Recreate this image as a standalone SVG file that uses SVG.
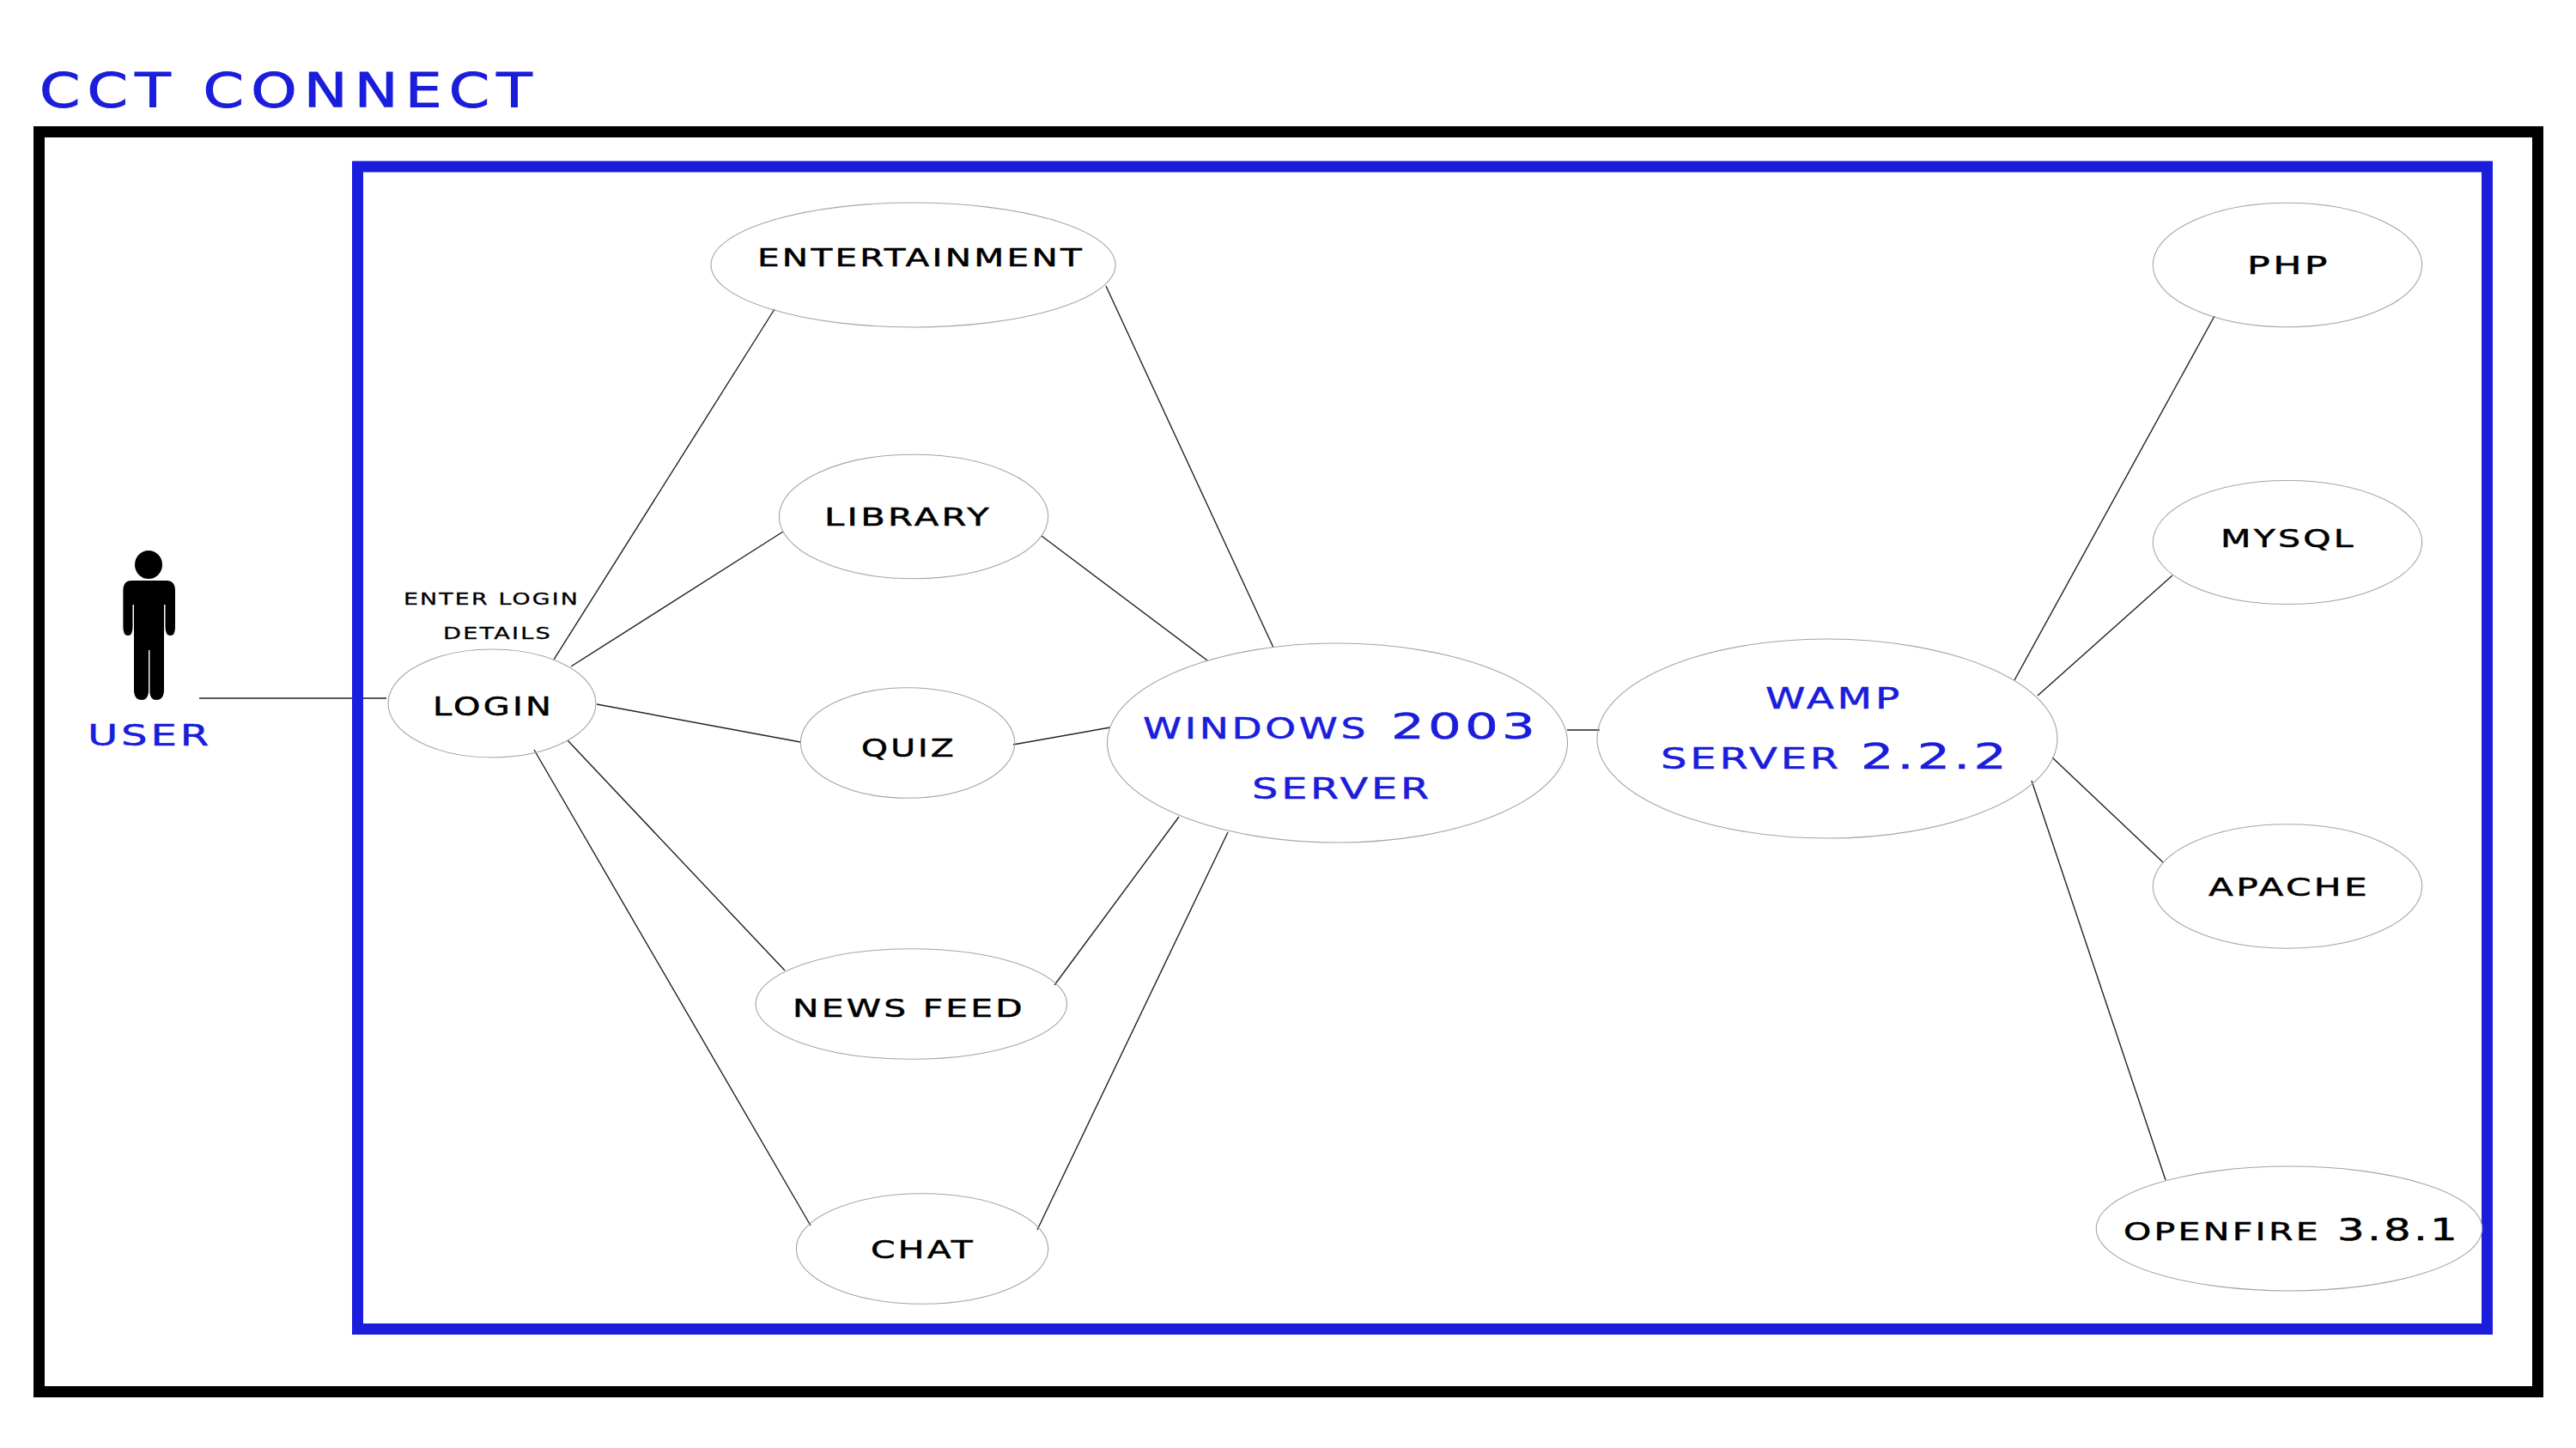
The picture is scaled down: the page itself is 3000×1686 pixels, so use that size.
<svg xmlns="http://www.w3.org/2000/svg" width="3000" height="1686" viewBox="0 0 3000 1686">
<style>
text{font-family:"DejaVu Sans","Liberation Sans",sans-serif;fill:#000;stroke:#000;stroke-width:.5;font-size:29px;letter-spacing:.08em}
.b{fill:#1a1ddb;stroke:#1a1ddb}
.n{fill:none;stroke:#a5a5a5;stroke-width:1.1}
#connectors line{stroke:#222;stroke-width:1.4}
.frame{fill:none;stroke-width:13}
</style>
<rect width="3000" height="1686" fill="#fff"/>
<text id="title" class="b" x="46" y="124" style="font-size:55px;stroke-width:1;letter-spacing:.12em" textLength="582" lengthAdjust="spacingAndGlyphs">CCT CONNECT</text>
<rect class="frame" x="45.5" y="153.5" width="2910" height="1467" stroke="#000"/>
<g id="connectors">
<line x1="232" y1="813" x2="450" y2="813"/>
<line x1="645" y1="768" x2="902" y2="360"/>
<line x1="665" y1="776" x2="912" y2="619"/>
<line x1="695" y1="820" x2="932" y2="864"/>
<line x1="661" y1="862" x2="914" y2="1130"/>
<line x1="622" y1="873" x2="944" y2="1427"/>
<line x1="1288" y1="333" x2="1483" y2="754"/>
<line x1="1213" y1="624" x2="1406" y2="769"/>
<line x1="1180" y1="867" x2="1293" y2="847"/>
<line x1="1228" y1="1147" x2="1373" y2="951"/>
<line x1="1208" y1="1432" x2="1430" y2="969"/>
<line x1="1825" y1="850" x2="1863" y2="850"/>
<line x1="2346" y1="792" x2="2579" y2="368"/>
<line x1="2373" y1="810" x2="2530" y2="670"/>
<line x1="2390" y1="882" x2="2519" y2="1004"/>
<line x1="2366" y1="909" x2="2522" y2="1374"/>
</g>
<rect class="frame" x="416.5" y="194" width="2480" height="1353.5" stroke="#1a1ddb"/>
<g id="user">
<ellipse cx="173" cy="657.5" rx="16" ry="16.5"/>
<path d="M153,676H194Q204,676 204,688V730Q204,740 198.5,740Q192.5,740 192.5,730V704H191V803Q191,815 182,815Q175,815 174.4,806V757H173V806Q172,815 165,815Q156,815 156,803V704H154.5V730Q154.5,740 149,740Q143.4,740 143.4,730V688Q143.4,676 153,676Z"/>
<text class="b" x="102" y="868" style="font-size:33px" textLength="145" lengthAdjust="spacingAndGlyphs">USER</text>
</g>
<g id="login">
<ellipse class="n" cx="573" cy="819" rx="121" ry="63"/>
<text x="504" y="833" style="font-size:29.5px" textLength="141" lengthAdjust="spacingAndGlyphs">LOGIN</text>
<text x="470" y="704" style="font-size:19px;stroke-width:.3" textLength="205" lengthAdjust="spacingAndGlyphs">ENTER LOGIN</text>
<text x="516" y="744" style="font-size:19px;stroke-width:.3" textLength="127" lengthAdjust="spacingAndGlyphs">DETAILS</text>
</g>
<g id="entertainment">
<ellipse class="n" cx="1063.5" cy="308.5" rx="235.5" ry="72.5"/>
<text x="882" y="310" textLength="381" lengthAdjust="spacingAndGlyphs">ENTERTAINMENT</text>
</g>
<g id="library">
<ellipse class="n" cx="1064" cy="601.5" rx="156.7" ry="72.3"/>
<text x="960" y="612" textLength="195" lengthAdjust="spacingAndGlyphs">LIBRARY</text>
</g>
<g id="quiz">
<ellipse class="n" cx="1057" cy="865" rx="124.7" ry="64.2"/>
<text x="1003" y="881" textLength="111" lengthAdjust="spacingAndGlyphs">QUIZ</text>
</g>
<g id="newsfeed">
<ellipse class="n" cx="1061.3" cy="1169" rx="181.3" ry="64.2"/>
<text x="923" y="1184" textLength="271" lengthAdjust="spacingAndGlyphs">NEWS FEED</text>
</g>
<g id="chat">
<ellipse class="n" cx="1074" cy="1454" rx="146.7" ry="64.2"/>
<text x="1014" y="1465" textLength="122" lengthAdjust="spacingAndGlyphs">CHAT</text>
</g>
<g id="windows">
<ellipse class="n" cx="1557.5" cy="865" rx="268" ry="116"/>
<text class="b" y="860" style="font-size:34.3px"><tspan x="1331" textLength="263" lengthAdjust="spacingAndGlyphs">WINDOWS</tspan> <tspan x="1620" style="font-size:41px" textLength="172" lengthAdjust="spacingAndGlyphs">2003</tspan></text>
<text class="b" x="1458" y="930" style="font-size:34.3px" textLength="210" lengthAdjust="spacingAndGlyphs">SERVER</text>
</g>
<g id="wamp">
<ellipse class="n" cx="2128" cy="860" rx="268" ry="116"/>
<text class="b" x="2056" y="825" style="font-size:34.3px" textLength="160" lengthAdjust="spacingAndGlyphs">WAMP</text>
<text class="b" y="895" style="font-size:34.3px"><tspan x="1934" textLength="211" lengthAdjust="spacingAndGlyphs">SERVER</tspan> <tspan x="2167" style="font-size:41px" textLength="174" lengthAdjust="spacingAndGlyphs">2.2.2</tspan></text>
</g>
<g id="php">
<ellipse class="n" cx="2664" cy="308.5" rx="156.7" ry="72.3"/>
<text x="2617" y="319" textLength="97" lengthAdjust="spacingAndGlyphs">PHP</text>
</g>
<g id="mysql">
<ellipse class="n" cx="2664" cy="631.5" rx="156.7" ry="72"/>
<text x="2586" y="637" textLength="158" lengthAdjust="spacingAndGlyphs">MYSQL</text>
</g>
<g id="apache">
<ellipse class="n" cx="2664" cy="1032" rx="156.7" ry="72.2"/>
<text x="2572" y="1043" textLength="188" lengthAdjust="spacingAndGlyphs">APACHE</text>
</g>
<g id="openfire">
<ellipse class="n" cx="2666" cy="1430.5" rx="224.7" ry="72.5"/>
<text y="1444"><tspan x="2473" textLength="230" lengthAdjust="spacingAndGlyphs">OPENFIRE</tspan> <tspan x="2722" style="font-size:35.7px" textLength="143" lengthAdjust="spacingAndGlyphs">3.8.1</tspan></text>
</g>
</svg>
